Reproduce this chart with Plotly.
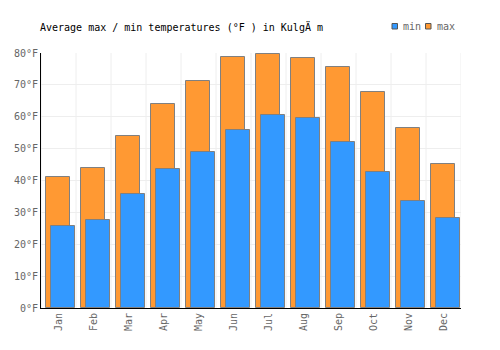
import plotly.graph_objects as go

months = ["Jan", "Feb", "Mar", "Apr", "May", "Jun", "Jul", "Aug", "Sep", "Oct", "Nov", "Dec"]
max_temps = [41.1, 43.8, 53.9, 63.9, 71.1, 78.6, 79.6, 78.3, 75.5, 67.7, 56.4, 45.1]
min_temps = [25.6, 27.5, 35.7, 43.5, 48.8, 55.7, 60.4, 59.6, 52.0, 42.6, 33.5, 28.1]
y_ticks = [0, 10, 20, 30, 40, 50, 60, 70, 80]

FONT = "DejaVu Sans Mono"
BLUE = "#3399ff"
ORANGE = "#ff9933"
xs = list(range(len(months)))

W, H = 500, 350
L, R, T, B = 41, 39, 53, 42
PW, PH = W - L - R, H - T - B


def px(x):
    return (x - L) / PW


def py(y):
    return (H - B - y) / PH


fig = go.Figure()
fig.add_trace(go.Bar(
    x=xs, y=max_temps, name="max", showlegend=False,
    marker=dict(color=ORANGE, line=dict(color="#808080", width=1)),
    offset=-0.35, width=0.67,
))
fig.add_trace(go.Bar(
    x=xs, y=min_temps, name="min", showlegend=False,
    marker=dict(color=BLUE, line=dict(color="#808080", width=1)),
    offset=-0.207, width=0.688,
))

fig.update_layout(
    width=W, height=H,
    margin=dict(l=L, r=R, t=T, b=B, autoexpand=False),
    paper_bgcolor="white", plot_bgcolor="white",
    barmode="overlay",
    bargap=0,
    font=dict(family=FONT, size=10, color="#666666"),
    title=dict(
        text="Average max / min temperatures (°F ) in KulgÄ m",
        font=dict(family=FONT, size=10, color="#000000"),
        x=40/W, xanchor="left", xref="container",
        y=1 - 27/H, yanchor="middle", yref="container",
    ),
    xaxis=dict(
        range=[-0.5, 11.5],
        tickmode="array", tickvals=xs, ticktext=months,
        tickangle=-90,
        showgrid=False,
        showline=True, linecolor="#000000", linewidth=1,
        ticks="", ticklen=0,
        zeroline=False,
    ),
    yaxis=dict(
        range=[0, 80],
        tickmode="array", tickvals=y_ticks,
        ticktext=[f"{v}°F" for v in y_ticks],
        showgrid=True, gridcolor="#eeeeee", gridwidth=1,
        showline=True, linecolor="#000000", linewidth=1,
        zeroline=False, ticks="",
    ),
)

# vertical grid lines at category boundaries
for i in range(len(months) + 1):
    fig.add_shape(type="line", xref="x", yref="paper",
                  x0=i - 0.5, x1=i - 0.5, y0=0, y1=1,
                  line=dict(color="#eeeeee", width=1), layer="below")

# legend (custom, small squares)
legend_items = [("min", BLUE, 392, 401), ("max", ORANGE, 425.5, 434.5)]
for name, color, sx, tx in legend_items:
    fig.add_shape(type="rect", xref="paper", yref="paper",
                  x0=px(sx), x1=px(sx + 5.5), y0=py(29), y1=py(23.5),
                  fillcolor=color, line=dict(color="#555555", width=1))
    fig.add_annotation(text=name, xref="paper", yref="paper",
                       x=px(tx), y=py(26.5), xanchor="left", yanchor="middle",
                       showarrow=False,
                       font=dict(family=FONT, size=10, color="#666666"))

fig.write_html("out.html")
